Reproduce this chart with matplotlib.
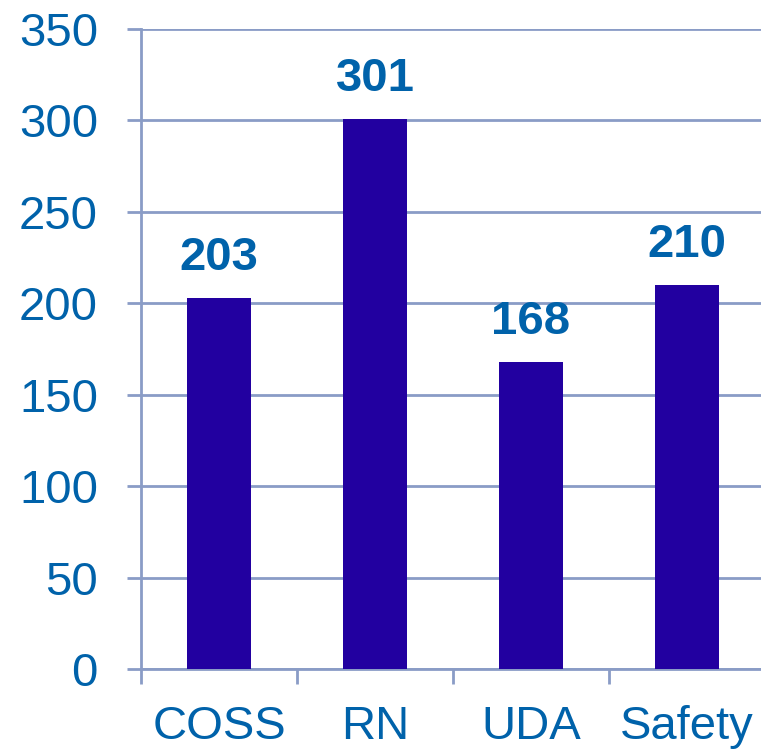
import matplotlib
matplotlib.use("Agg")
import matplotlib.pyplot as plt
import numpy as np

categories = ["COSS", "RN", "UDA", "Safety"]
values = [203, 301, 168, 210]
yticks = [0, 50, 100, 150, 200, 250, 300, 350]

bar_color = "#2200A0"
text_color = "#0062AA"
grid_color = "#8A9CC6"

plt.rcParams['font.family'] = ['Liberation Sans', 'DejaVu Sans']

fig = plt.figure(figsize=(7.61, 7.52), dpi=100)
left = 141 / 761
bottom = 1 - 669 / 752
top = 1 - 29 / 752
ax = fig.add_axes([left, bottom, 1 - left, top - bottom])

x = np.arange(len(categories))
bars = ax.bar(x, values, width=0.41, color=bar_color, zorder=3)

ax.set_ylim(0, 350)
ax.set_xlim(-0.5, 3.5 - 4 / 156)
ax.set_yticks(yticks)
ax.set_yticklabels([str(v) for v in yticks])
ax.yaxis.grid(True, color=grid_color, linewidth=2, zorder=0)
ax.set_axisbelow(True)

ax.set_xticks(x)
ax.set_xticklabels(categories)
ax.set_xticks(np.arange(len(categories)) - 0.5, minor=True)

for s in ["top", "right"]:
    ax.spines[s].set_visible(False)
for s in ["left", "bottom"]:
    ax.spines[s].set_color(grid_color)
    ax.spines[s].set_linewidth(2)

ax.tick_params(axis='y', which='major', length=10, width=2, color=grid_color,
               labelsize=34, labelcolor=text_color, pad=21)
ax.tick_params(axis='x', which='major', length=0, labelsize=34,
               labelcolor=text_color, pad=26)
ax.tick_params(axis='x', which='minor', length=11, width=2, color=grid_color)

for xi, v in zip(x, values):
    ax.annotate(str(v), (xi, v), xytext=(0, 13), textcoords='offset points',
                ha='center', va='bottom', fontsize=34, fontweight='bold',
                color=text_color)

fig.savefig("out.png", dpi=100)
